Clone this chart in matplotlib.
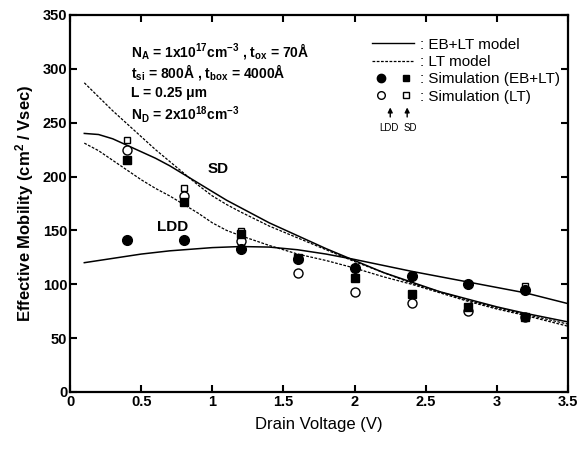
"""Effective mobility vs drain voltage for LDD and SD devices."""

import matplotlib

matplotlib.use("Agg")

import matplotlib.pyplot as plt
from matplotlib.legend_handler import HandlerTuple
from matplotlib.lines import Line2D

plt.rcParams["font.family"] = ["Liberation Sans", "DejaVu Sans"]
plt.rcParams["mathtext.default"] = "regular"

# model curves
model_v = [0.1, 0.2, 0.3, 0.4, 0.5, 0.6, 0.7, 0.8, 0.9, 1.0, 1.1, 1.2, 1.4,
           1.6, 1.8, 2.0, 2.2, 2.4, 2.6, 2.8, 3.0, 3.2, 3.5]
sd_lt_mu = [287, 274, 261, 249, 237, 225, 214, 203, 192, 182, 174, 167, 154,
            143, 132, 121, 111, 101, 93, 85, 78, 72, 63]
sd_eb_mu = [240, 239, 235, 229, 223, 217, 210, 202, 194, 186, 178, 171, 157,
            145, 133, 122, 111, 102, 93, 86, 79, 73, 65]
ldd_lt_mu = [231, 224, 215, 206, 197, 189, 182, 174, 166, 157, 150, 145, 136,
             128, 122, 115, 107, 100, 92, 84, 77, 71, 61]
ldd_eb_mu = [120, 122, 124, 126, 128, 129.5, 131, 132, 133, 134, 134.5, 135, 134.5,
             132, 128, 123, 117.5, 112, 107, 102, 97, 92, 82]

# simulation points
sim_v = [0.4, 0.8, 1.2, 1.6, 2.0, 2.4, 2.8, 3.2]
ldd_sim_eb = [141, 141, 133, 123, 115, 108, 100, 95]
sd_sim_eb = [215, 176, 147, 124, 106, 91, 79, 70]
ldd_sim_lt = [225, 182, 140, 110, 93, 83, 75, 70]
sd_sim_lt = [234, 189, 149, 124, 106, 91, 79, 98]

fig = plt.figure(figsize=(5.84, 4.5), dpi=100)
ax = fig.add_axes([0.12, 0.129, 0.8526, 0.8378])

DASH = (0, (2.2, 1.2))
ax.plot(model_v, sd_lt_mu, color="black", lw=0.9, linestyle=DASH)
ax.plot(model_v, ldd_lt_mu, color="black", lw=0.9, linestyle=DASH)
ax.plot(model_v, sd_eb_mu, color="black", lw=1.1)
ax.plot(model_v, ldd_eb_mu, color="black", lw=1.1)

ax.plot(sim_v, sd_sim_lt, "s", ms=5, mfc="white", mec="black", mew=1.0, ls="none")
ax.plot(sim_v, ldd_sim_lt, "o", ms=6.5, mfc="white", mec="black", mew=1.0, ls="none")
ax.plot(sim_v, sd_sim_eb, "s", ms=6, color="black", ls="none")
ax.plot(sim_v, ldd_sim_eb, "o", ms=7, color="black", ls="none")

ax.set_xlim(0, 3.5)
ax.set_ylim(0, 350)
ax.set_xticks([0, 0.5, 1, 1.5, 2, 2.5, 3, 3.5])
ax.set_xticklabels(["0", "0.5", "1", "1.5", "2", "2.5", "3", "3.5"])
ax.set_yticks(range(0, 351, 50))
ax.tick_params(direction="in", length=5, width=1.5, top=True, right=True,
               labelsize=10.5, pad=2)
for lab in ax.get_xticklabels() + ax.get_yticklabels():
    lab.set_fontweight("bold")
for spine in ax.spines.values():
    spine.set_linewidth(1.6)

ax.set_xlabel("Drain Voltage (V)", fontsize=12, labelpad=6)
ax.set_ylabel("Effective Mobility (cm$^2$ / Vsec)", fontsize=12,
              fontweight="bold", labelpad=5)

# device parameters
params = [
    "N$_A$ = 1x10$^{17}$cm$^{-3}$ , t$_{ox}$ = 70Å",
    "t$_{si}$ = 800Å , t$_{box}$ = 4000Å",
    "L = 0.25 μm",
    "N$_D$ = 2x10$^{18}$cm$^{-3}$",
]
for i, line in enumerate(params):
    ax.text(0.122, 0.905 - i * 0.056, line, transform=ax.transAxes,
            fontsize=10, fontweight="bold", va="center", ha="left")

ax.text(1.04, 207, "SD", fontsize=11, fontweight="bold", ha="center", va="center")
ax.text(0.72, 153, "LDD", fontsize=11, fontweight="bold", ha="center", va="center")

handles = [
    Line2D([], [], color="black", lw=1.0),
    Line2D([], [], color="black", lw=0.9, linestyle=DASH),
    (Line2D([], [], marker="o", ls="none", color="black", ms=6),
     Line2D([], [], marker="s", ls="none", color="black", ms=5)),
    (Line2D([], [], marker="o", ls="none", mfc="white", mec="black", ms=5.5),
     Line2D([], [], marker="s", ls="none", mfc="white", mec="black", ms=4.5)),
]
labels = [": EB+LT model", ": LT model", ": Simulation (EB+LT)", ": Simulation (LT)"]
ax.legend(handles, labels, loc="upper left", bbox_to_anchor=(0.607, 0.94),
          frameon=False, fontsize=11, handlelength=2.75, handletextpad=0.4,
          labelspacing=0.22, borderpad=0, borderaxespad=0,
          handler_map={tuple: HandlerTuple(ndivide=None, pad=0.6)})

for xa, tx, name in [(0.643, 0.641, "LDD"), (0.677, 0.683, "SD")]:
    ax.annotate("", xy=(xa, 0.762), xytext=(xa, 0.722), xycoords="axes fraction",
                arrowprops=dict(arrowstyle="-|>", color="black", lw=1.0,
                                mutation_scale=7))
    ax.text(tx, 0.7, name, transform=ax.transAxes, fontsize=7,
            ha="center", va="center")

fig.savefig("out.png", dpi=100)
plt.close(fig)
